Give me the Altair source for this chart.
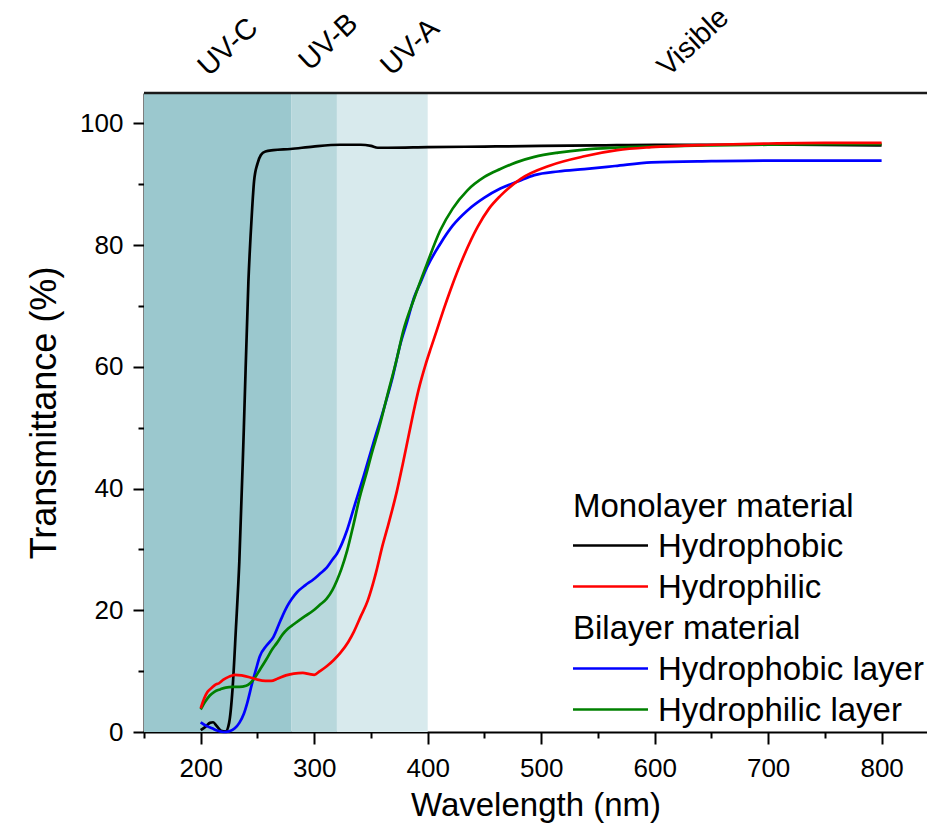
import altair as alt
import pandas as pd

# ---------------- data ----------------
black_wl = [200, 205, 208, 211, 214, 218, 222, 225, 228, 231, 234, 238, 242, 245, 247, 250, 253, 257,
            264, 279, 299, 323, 341, 350, 356, 365, 400, 450, 500, 550, 600, 700, 800]
black_t = [0.3, 1.0, 1.5, 1.6, 1.0, 0.2, 0.1, 1.5, 7, 17, 28, 50, 74, 85, 90.5, 93.4, 94.8, 95.4,
           95.6, 95.8, 96.2, 96.5, 96.5, 96.3, 96.0, 96.0, 96.1, 96.2, 96.3, 96.4, 96.5, 96.5, 96.4]

red_wl = [200, 203, 206, 210, 213, 216, 220, 225, 230, 236, 243, 250, 257, 262, 268, 275, 282, 290,
          296, 300, 305, 311, 317, 323, 330, 335, 341, 347, 352, 355, 360, 364, 373, 378, 383, 388, 393,
          398, 403, 408, 414, 420, 432, 444, 454, 464, 482, 508, 538, 567, 597, 650, 700, 750, 800]
red_t = [3.9, 5.5, 6.6, 7.3, 7.8, 8.0, 8.6, 9.1, 9.4, 9.3, 9.0, 8.6, 8.4, 8.4, 8.8, 9.3, 9.6, 9.7,
         9.5, 9.4, 10.0, 10.8, 11.8, 13.0, 14.8, 16.5, 19.0, 21.5, 24.5, 26.6, 30.5, 33.2, 39.7, 44.0, 48.5, 53.0, 57.0,
         60.3, 63.2, 66.0, 69.4, 72.6, 78.3, 83.0, 86.0, 88.1, 90.9, 93.1, 94.6, 95.6, 96.1, 96.5, 96.7, 96.8, 96.8]

blue_wl = [200, 205, 210, 215, 220, 225, 230, 234, 238, 241, 245, 249, 252, 258, 264, 270, 276, 280,
           285, 292, 299.5, 305, 311, 316, 320, 329, 336, 343.5, 352, 361, 368.4, 376, 382, 388, 394,
           399.5, 411, 422, 435, 450, 464, 480, 494, 515, 538, 565, 597, 650, 700, 750, 800]
blue_t = [1.6, 1.0, 0.6, 0.2, 0.0, 0.1, 0.6, 1.5, 3.0, 4.8, 7.8, 10.5, 12.4, 14.2, 15.6, 18.2, 20.6, 21.8,
          23.0, 24.1, 25.1, 26.0, 27.0, 28.3, 29.3, 33.2, 37.5, 42.0, 47.4, 52.9, 57.8, 63.8, 67.5, 71.4, 74.0,
          76.4, 80.2, 83.2, 85.7, 87.8, 89.3, 90.5, 91.5, 92.1, 92.5, 93.0, 93.6, 93.8, 93.9, 93.9, 93.9]

green_wl = [200, 204, 208, 212, 217, 222, 228, 234, 240, 244, 248, 252, 258, 263, 267, 272, 277, 282,
            290, 299.5, 305, 311, 316, 320, 324, 329, 334.5, 340, 346, 351, 356.5, 364, 373, 378.6, 388,
            399.5, 411, 422, 435, 450, 464, 478, 494, 515, 538, 565, 597, 650, 700, 750, 800]
green_t = [3.7, 5.0, 6.0, 6.6, 7.0, 7.3, 7.4, 7.4, 7.6, 8.1, 9.0, 10.2, 12.0, 13.6, 14.6, 16.0, 17.0, 17.7,
           18.8, 20.0, 20.9, 21.9, 23.3, 24.9, 26.8, 29.8, 34.0, 38.5, 42.5, 46.0, 49.5, 55.0, 61.5, 66.0, 71.2,
           77.0, 82.4, 86.0, 89.0, 91.2, 92.5, 93.6, 94.5, 95.2, 95.7, 96.0, 96.2, 96.4, 96.5, 96.6, 96.6]

series_names = ["Hydrophobic", "Hydrophilic", "Hydrophobic layer", "Hydrophilic layer"]
series_colors = ["#000000", "#FF0000", "#0000FF", "#008000"]

band_names = ["UV-C", "UV-B", "UV-A"]
band_start = [150, 280, 320]
band_end = [280, 320, 400]
band_colors = ["#9BC8CE", "#B8D8DC", "#D8EAED"]

region_labels = ["UV-C", "UV-B", "UV-A", "Visible"]
region_label_wl = [224, 312.5, 384.5, 634]

x_ticks = list(range(150, 801, 50))
y_ticks = list(range(0, 101, 10))

# ---------------- layout ----------------
W, H = 783, 639
FONT = "Liberation Sans"
region_label_y = [-46, -51, -46, -51]   # pixel offsets above the plot area

xscale = alt.Scale(domain=[150, 840], nice=False, zero=False)
yscale = alt.Scale(domain=[0, 105], nice=False, zero=False)

xaxis = alt.Axis(
    values=x_ticks,
    labelExpr="datum.value % 100 === 0 ? datum.label : ''",
    tickSize={"condition": {"test": "datum.value % 100 === 0", "value": 12}, "value": 6},
    labelPadding=11, labelFontSize=26, labelOverlap=False, labelFlush=False,
    titleFontSize=33, titlePadding=8, grid=False,
    domainWidth=2, tickWidth=2,
)
yaxis = alt.Axis(
    values=y_ticks,
    labelExpr="datum.value % 20 === 0 ? datum.label : ''",
    tickSize={"condition": {"test": "datum.value % 20 === 0", "value": 11}, "value": 6},
    labelPadding=10, labelFontSize=26, labelOverlap=False, labelFlush=False,
    titleFontSize=36, titlePadding=16, grid=False,
    domainWidth=2, tickWidth=2,
)
XT = "Wavelength (nm)"
YT = "Transmittance (%)"

one = pd.DataFrame({"k": [0]})

bands = pd.DataFrame({"band": band_names, "start": band_start, "end": band_end, "color": band_colors})
band_layer = alt.Chart(bands).mark_rect().encode(
    x=alt.X("start:Q", scale=xscale, axis=xaxis, title=XT),
    x2="end:Q",
    y=alt.value(0),
    y2=alt.value(H),
    color=alt.Color("color:N", scale=None, legend=None),
)

all_wl = [black_wl, red_wl, blue_wl, green_wl]
all_t = [black_t, red_t, blue_t, green_t]
line_layers = []
for order in [0, 2, 3, 1]:
    d = pd.DataFrame({"wl": all_wl[order], "t": all_t[order]})
    line_layers.append(
        alt.Chart(d).mark_line(color=series_colors[order], strokeWidth=2.7, interpolate="monotone").encode(
            x=alt.X("wl:Q", scale=xscale, axis=xaxis, title=XT),
            y=alt.Y("t:Q", scale=yscale, axis=yaxis, title=YT),
        )
    )

region_layers = []
for lab, wl, yy in zip(region_labels, region_label_wl, region_label_y):
    region_layers.append(
        alt.Chart(pd.DataFrame({"label": [lab], "wl": [wl]})).mark_text(
            angle=317, fontSize=29, font=FONT, color="#000000", align="center", baseline="middle"
        ).encode(
            x=alt.X("wl:Q", scale=xscale, axis=xaxis, title=XT),
            y=alt.value(yy),
            text="label:N",
        )
    )

top_border = alt.Chart(one).mark_rule(color="#1a1a1a", strokeWidth=2.5).encode(
    x=alt.value(0), x2=alt.value(W), y=alt.value(0)
)

# legend (hand-built, grouped)
legend_layers = []
LX_HEAD, LX_LINE0, LX_LINE1, LX_TEXT = 429, 429, 504, 514
legend_rows = [
    ("Monolayer material", None, 423.5),
    ("Hydrophobic", series_colors[0], 464),
    ("Hydrophilic", series_colors[1], 505),
    ("Bilayer material", None, 546),
    ("Hydrophobic layer", series_colors[2], 587),
    ("Hydrophilic layer", series_colors[3], 628),
]
for label, col, yb in legend_rows:
    tx = LX_HEAD if col is None else LX_TEXT
    legend_layers.append(
        alt.Chart(one).mark_text(text=label, fontSize=33, font=FONT, color="#000000",
                                 align="left", baseline="alphabetic").encode(
            x=alt.value(tx), y=alt.value(yb)
        )
    )
    if col is not None:
        legend_layers.append(
            alt.Chart(one).mark_rule(color=col, strokeWidth=2.5).encode(
                x=alt.value(LX_LINE0), x2=alt.value(LX_LINE1), y=alt.value(yb - 11.5)
            )
        )

chart = alt.layer(
    band_layer, *line_layers, *region_layers, top_border, *legend_layers
).properties(
    width=W, height=H,
    padding={"left": 144, "top": 93, "right": 0, "bottom": 100},
    autosize=alt.AutoSizeParams(type="none"),
    background="white",
).configure_view(
    stroke=None
).configure_axis(
    labelFont=FONT, titleFont=FONT, labelColor="#000000", titleColor="#000000",
    domainColor="#000000", tickColor="#000000", titleFontWeight="normal",
)

chart.save("out.html", embed_options={"renderer": "svg", "actions": False})
